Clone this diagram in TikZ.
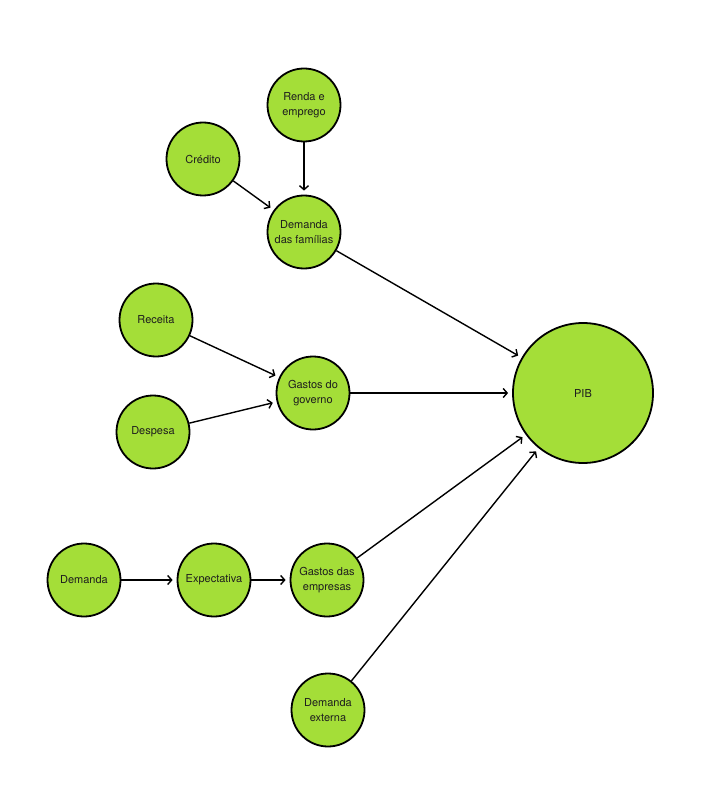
\documentclass[tikz,border=0pt]{standalone}
\usepackage{fontspec}
\setmainfont{TeX Gyre Heros}
\usetikzlibrary{arrows.meta}
\definecolor{nodegreen}{RGB}{164,222,56}
\definecolor{txt}{RGB}{30,30,30}
\begin{document}
\begin{tikzpicture}[x=1pt,y=-1pt,
  bubble/.style={circle,draw=black,line width=1.8pt,fill=nodegreen,inner sep=0pt,
    minimum size=73pt,align=center,text=txt,font=\fontsize{11}{14.5}\selectfont},
  big/.style={bubble,minimum size=140pt},
  link/.style={line width=1.4pt,-{Straight Barb[length=4pt,width=9pt]},shorten >=4pt}
]
\useasboundingbox (0,0) rectangle (715,786);
\fill[white] (0,0) rectangle (715,786);
\node[bubble] (renda) at (304,105) {Renda e\\emprego};
\node[bubble] (cred) at (203,159) {Crédito};
\node[bubble] (fam) at (304,232) {Demanda\\das famílias};
\node[bubble] (rec) at (156,320) {Receita};
\node[bubble] (gov) at (313,393) {Gastos do\\governo};
\node[bubble] (desp) at (153,432) {Despesa};
\node[big] (pib) at (583,393) {PIB};
\node[bubble] (dem) at (84,580) {Demanda};
\node[bubble] (exp) at (214,580) {Expectativa};
\node[bubble] (emp) at (327,580) {Gastos das\\empresas};
\node[bubble] (ext) at (328,710) {Demanda\\externa};
\draw[link] (renda) -- (fam);
\draw[link] (cred) -- (fam);
\draw[link] (rec) -- (gov);
\draw[link] (desp) -- (gov);
\draw[link] (dem) -- (exp);
\draw[link] (exp) -- (emp);
\draw[link] (fam) -- (pib);
\draw[link] (gov) -- (pib);
\draw[link] (emp) -- (pib);
\draw[link] (ext) -- (pib);
\end{tikzpicture}
\end{document}
